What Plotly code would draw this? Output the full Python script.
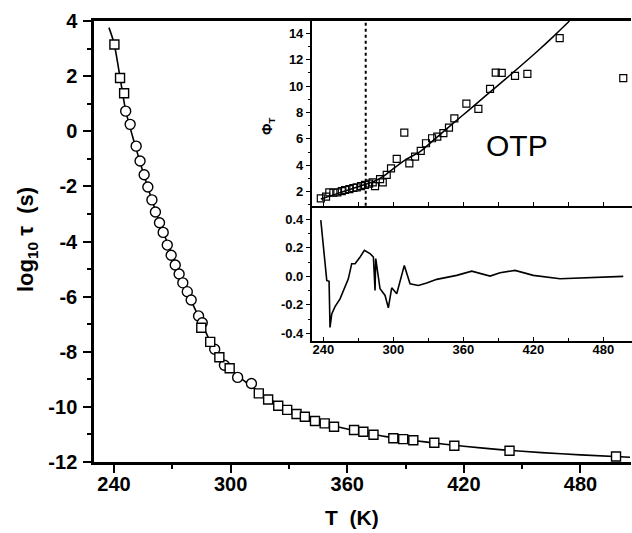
import plotly.graph_objects as go

# ---------------- data ----------------
# main panel: log10 tau vs T
sq_T = [240.2, 243.1, 245.2, 284.9, 289.5, 294.2, 299.5, 314.5, 319.3, 324.5, 329.1, 333.9,
        338.2, 343.4, 348.4, 353.2, 363.5, 368.3, 373.5, 383.7, 388.8, 394.0, 404.8, 415.1,
        443.5, 498.3]
sq_logtau = [3.15, 1.93, 1.38, -7.13, -7.64, -8.20, -8.60, -9.51, -9.73, -9.96, -10.11, -10.26,
             -10.36, -10.51, -10.60, -10.72, -10.84, -10.90, -11.01, -11.14, -11.17, -11.21,
             -11.30, -11.41, -11.59, -11.80]
ci_T = [246.0, 248.3, 251.4, 253.4, 255.5, 257.4, 259.5, 261.3, 263.4, 265.3, 267.4, 269.4,
        271.5, 273.5, 275.4, 277.7, 279.7, 283.5, 285.4, 291.8, 296.8, 303.6, 310.7]
ci_logtau = [0.73, 0.25, -0.54, -1.08, -1.58, -2.02, -2.49, -2.93, -3.32, -3.67, -4.13, -4.50,
             -4.85, -5.18, -5.50, -5.82, -6.12, -6.70, -6.95, -7.91, -8.49, -8.93, -9.15]
fit_T = [237.4, 240, 243, 246, 250, 255, 260, 265, 270, 275, 280, 285, 290, 295, 300, 305, 310,
         315, 320, 330, 340, 350, 360, 370, 380, 390, 400, 420, 440, 460, 480, 505.5]
fit_logtau = [3.76, 3.2, 2.0, 0.75, -0.3, -1.5, -2.6, -3.6, -4.5, -5.4, -6.2, -6.95, -7.7, -8.25,
              -8.62, -8.95, -9.22, -9.48, -9.72, -10.1, -10.4, -10.63, -10.8, -10.95, -11.08,
              -11.18, -11.27, -11.43, -11.56, -11.66, -11.74, -11.83]

# inset top: Phi_T vs T
phi_T = [237.8, 242.3, 245.1, 248.6, 252.0, 255.8, 258.6, 262.3, 265.7, 268.6, 272.3, 275.7,
         279.2, 282.3, 284.3, 288.6, 290.9, 294.3, 298.0, 302.9, 309.4, 313.7, 318.6, 323.5,
         328.0, 333.2, 337.7, 342.9, 347.7, 352.3, 362.6, 372.9, 382.9, 387.8, 392.9, 404.3,
         414.9, 442.6, 497.1]
phi_val = [1.50, 1.62, 1.95, 1.92, 1.95, 2.05, 2.13, 2.20, 2.28, 2.33, 2.43, 2.51, 2.61, 2.71,
           2.43, 2.96, 2.71, 3.27, 3.77, 4.48, 6.47, 4.15, 4.65, 5.09, 5.67, 6.05, 6.17, 6.43,
           6.85, 7.56, 8.67, 8.27, 9.79, 11.02, 11.0, 10.77, 10.92, 13.63, 10.6]
phi_fit_T = [237.8, 250, 262, 276.3, 285, 292, 300, 310, 322.9, 337, 351.4, 365, 380, 395,
             408.6, 423, 437.1, 451]
phi_fit = [1.45, 1.8, 2.15, 2.56, 2.85, 3.2, 3.75, 4.4, 5.03, 6.1, 7.19, 8.2, 9.33, 10.45,
           11.48, 12.6, 13.75, 14.93]
T_dotted = 276.3

# inset bottom: residuals
res_T = [237.8, 242.9, 244.9, 245.7, 247.2, 250.0, 254.3, 258.6, 261.4, 264.3, 267.2, 271.5,
         275.2, 280.0, 282.9, 284.3, 284.9, 288.6, 292.9, 295.7, 298.6, 302.9, 309.4, 314.3,
         321.4, 328.6, 337.2, 354.3, 367.2, 382.9, 391.5, 404.3, 420.0, 442.9, 471.4, 497.1]
res_val = [0.395, -0.028, -0.035, -0.358, -0.263, -0.212, -0.158, -0.076, -0.017, 0.089, 0.089,
           0.136, 0.183, 0.16, 0.136, -0.099, 0.125, -0.087, -0.134, -0.221, -0.08, -0.122,
           0.077, -0.052, -0.064, -0.047, -0.021, 0.007, 0.037, 0.002, 0.026, 0.042, 0.007,
           -0.017, -0.009, 0.0]

main_xticks = [240, 300, 360, 420, 480]
main_yticks = [4, 2, 0, -2, -4, -6, -8, -10, -12]
main_ytext = ["4", "2", "0", "-2", "-4", "-6", "-8", "-10", "-12"]
inset_top_yticks = [2, 4, 6, 8, 10, 12, 14]
inset_bot_yticks = [-0.4, -0.2, 0.0, 0.2, 0.4]
inset_bot_ytext = ["-0.4", "-0.2", "0.0", "0.2", "0.4"]

# ---------------- figure ----------------
W, H = 632, 533
FONT = "Liberation Sans, Arial, sans-serif"

def px(x):
    return x / W

def py(y):
    return 1 - y / H

fig = go.Figure()

# main
fig.add_trace(go.Scatter(x=fit_T, y=fit_logtau, mode="lines", line=dict(color="black", width=1.6, shape="spline", smoothing=0.6),
                         xaxis="x", yaxis="y", showlegend=False, hoverinfo="skip"))
fig.add_trace(go.Scatter(x=ci_T, y=ci_logtau, mode="markers",
                         marker=dict(symbol="circle", size=10, color="white", line=dict(color="black", width=1.4)),
                         xaxis="x", yaxis="y", showlegend=False))
fig.add_trace(go.Scatter(x=sq_T, y=sq_logtau, mode="markers",
                         marker=dict(symbol="square", size=9, color="white", line=dict(color="black", width=1.4)),
                         xaxis="x", yaxis="y", showlegend=False))

# inset top
fig.add_trace(go.Scatter(x=phi_fit_T, y=phi_fit, mode="lines", line=dict(color="black", width=1.5, shape="spline", smoothing=0.6),
                         xaxis="x2", yaxis="y2", showlegend=False, hoverinfo="skip"))
fig.add_trace(go.Scatter(x=phi_T, y=phi_val, mode="markers",
                         marker=dict(symbol="square", size=7, color="rgba(255,255,255,0)", line=dict(color="black", width=1.2)),
                         xaxis="x2", yaxis="y2", showlegend=False))

# inset bottom
fig.add_trace(go.Scatter(x=res_T, y=res_val, mode="lines", line=dict(color="black", width=1.6),
                         xaxis="x3", yaxis="y3", showlegend=False))

tickf_main = dict(family=FONT, size=20, color="black", weight="bold")
tickf_in = dict(family=FONT, size=13, color="black", weight="bold")

xmain = [px(94), px(631)]
ymain = [py(462), py(21)]
xin = [px(311.7), 1.0]
ytop = [py(205.7), py(21)]
ybot = [py(340.5), py(205.7)]

common = dict(automargin=False, showgrid=False, zeroline=False)

fig.update_layout(
    template="none",
    width=W, height=H,
    margin=dict(l=0, r=0, t=0, b=0, pad=0),
    paper_bgcolor="white", plot_bgcolor="rgba(0,0,0,0)",
    xaxis=dict(domain=xmain, range=[229.7, 506], anchor="y",
               showline=True, linecolor="black", linewidth=2.5, mirror=True,
               ticks="outside", ticklen=8, tickwidth=2, tickcolor="black",
               tickvals=main_xticks, tickfont=tickf_main, ticklabelstandoff=-6,
               minor=dict(ticks="outside", ticklen=4, tickwidth=1.5, dtick=30, tick0=240, tickcolor="black"),
               **common),
    yaxis=dict(domain=ymain, range=[-12, 4], anchor="x",
               showline=True, linecolor="black", linewidth=2.5,
               ticks="outside", ticklen=8, tickwidth=2, tickcolor="black",
               tickvals=main_yticks, ticktext=main_ytext, tickfont=tickf_main, ticklabelstandoff=2,
               minor=dict(ticks="outside", ticklen=4, tickwidth=1.5, dtick=1, tick0=0, tickcolor="black"),
               **common),
    xaxis2=dict(domain=xin, range=[230, 504.6], anchor="y2",
                showline=True, linecolor="black", linewidth=1.5,
                ticks="inside", ticklen=4, tickwidth=1, tickcolor="black",
                tickvals=main_xticks, showticklabels=False,
                minor=dict(ticks="inside", ticklen=4, tickwidth=1, dtick=30, tick0=240, tickcolor="black"),
                **common),
    yaxis2=dict(domain=ytop, range=[0.94, 14.93], anchor="x2",
                showline=True, linecolor="black", linewidth=1.5,
                ticks="outside", ticklen=4, tickwidth=1, tickcolor="black",
                tickvals=inset_top_yticks, tickfont=tickf_in,
                minor=dict(ticks="outside", ticklen=2, tickwidth=1, dtick=1, tick0=0, tickcolor="black"),
                **common),
    xaxis3=dict(domain=xin, range=[230, 504.6], anchor="y3",
                showline=True, linecolor="black", linewidth=1.5,
                ticks="inside", ticklen=4, tickwidth=1, tickcolor="black",
                tickvals=main_xticks, tickfont=tickf_in, ticklabelstandoff=-4,
                minor=dict(ticks="inside", ticklen=3, tickwidth=1, dtick=30, tick0=240, tickcolor="black"),
                **common),
    yaxis3=dict(domain=ybot, range=[-0.45, 0.496], anchor="x3",
                showline=True, linecolor="black", linewidth=1.5,
                ticks="outside", ticklen=4, tickwidth=1, tickcolor="black",
                tickvals=inset_bot_yticks, ticktext=inset_bot_ytext,
                tickfont=tickf_in,
                minor=dict(ticks="outside", ticklen=2, tickwidth=1, dtick=0.1, tick0=0, tickcolor="black"),
                **common),
    shapes=[dict(type="line", xref="x2", yref="y2 domain", x0=T_dotted, x1=T_dotted, y0=0, y1=1,
                 line=dict(color="black", width=2, dash="dot"))],
    annotations=[
        dict(text="log<sub>10</sub> τ  (s)", x=px(27), y=py(240), xref="paper", yref="paper",
             xanchor="center", yanchor="middle",
             showarrow=False, textangle=-90, font=dict(family=FONT, size=22, color="black", weight="bold")),
        dict(text="T  (K)", x=px(352), y=py(517), xref="paper", yref="paper",
             xanchor="center", yanchor="middle",
             showarrow=False, font=dict(family=FONT, size=21, color="black", weight="bold")),
        dict(text="Φ<sub>T</sub>", x=px(268), y=py(126), xref="paper", yref="paper",
             xanchor="center", yanchor="middle",
             showarrow=False, textangle=-90, font=dict(family=FONT, size=14, color="black", weight="bold")),
        dict(text="OTP", x=px(517), y=py(146), xref="paper", yref="paper",
             xanchor="center", yanchor="middle",
             showarrow=False, font=dict(family=FONT, size=30, color="black")),
    ],
)

fig.write_html("out.html", config={"displayModeBar": False},
               post_script="document.body.style.margin='0';document.body.style.overflow='hidden';")
